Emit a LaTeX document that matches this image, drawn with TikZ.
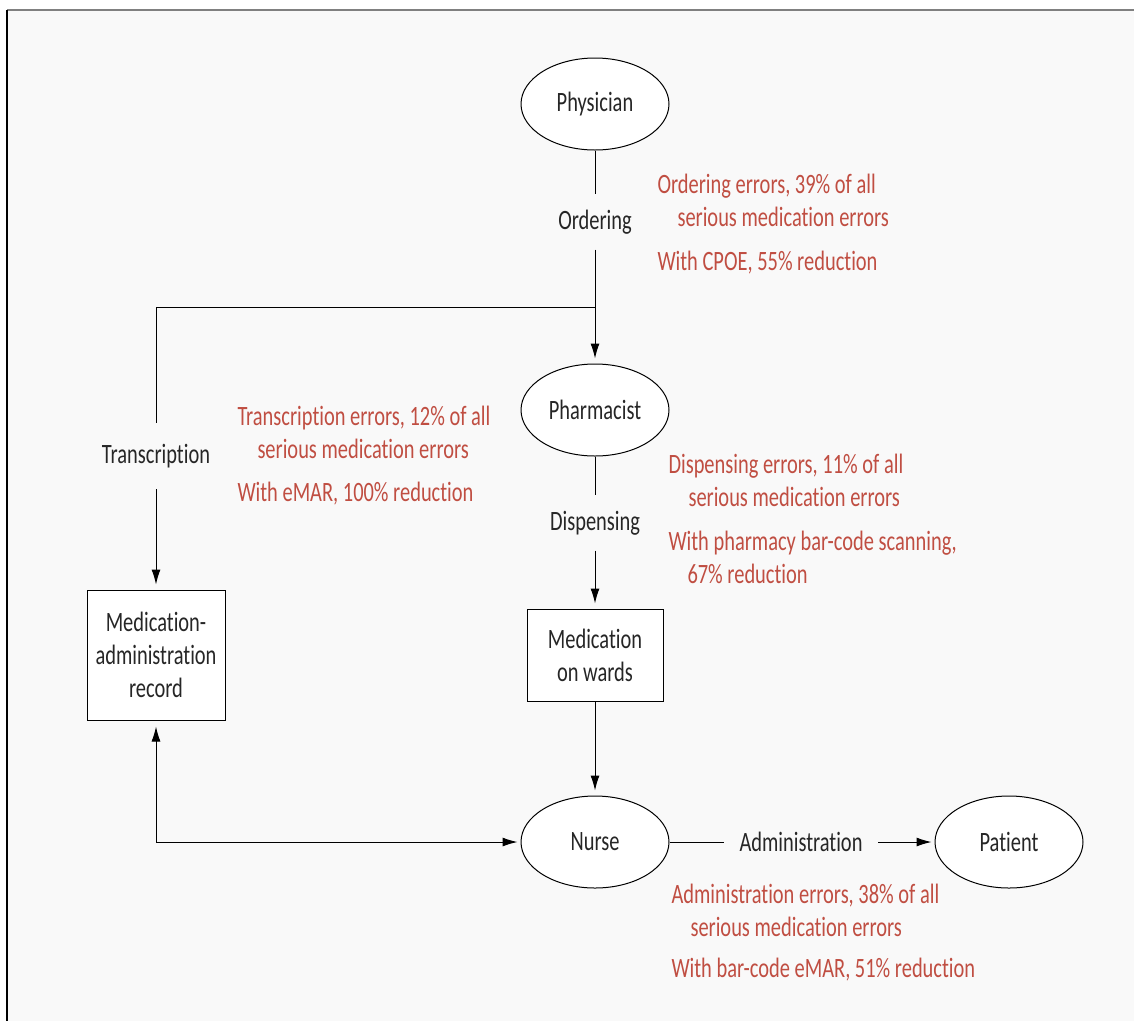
\documentclass[tikz,border=0pt]{standalone}
\usepackage{fontspec}
\setmainfont{Carlito}[FakeStretch=0.73,Ligatures=NoCommon]
\usetikzlibrary{shapes.geometric}
\usetikzlibrary{arrows.meta}
\definecolor{errred}{RGB}{192,78,66}
\definecolor{paper}{RGB}{249,249,249}
\tikzset{actor/.style={draw,ellipse,fill=white,minimum width=148pt,minimum height=92pt,inner sep=0pt}}
\tikzset{store/.style={draw,rectangle,fill=white,align=center,inner sep=0pt}}
\tikzset{stage/.style={inner sep=15pt}}
\tikzset{errnote/.style={text=errred,align=left,anchor=north west,inner sep=0pt}}
\tikzset{flow/.style={-{Latex[length=15pt,width=9pt]},shorten >=5pt}}

\begin{document}
\begin{tikzpicture}[x=1pt,y=-1pt,line width=1pt,text=black!85,
		font=\fontsize{28}{33}\selectfont]
	\useasboundingbox (0,0) rectangle (1134,1021);
	\fill[paper] (7,10) rectangle (1134,1021);
	\draw[gray,line width=2pt] (7,10) -- (1134,10);
	\draw[line width=2pt] (7,10) -- (7,1021);

	\node[actor] (physician) at (595,104) {Physician};
	\node[stage] (ordering) at (595,222) {Ordering};
	\coordinate (branch) at (595,307);
	\node[actor] (pharmacist) at (595,410) {Pharmacist};
	\node[stage] (dispensing) at (595,523) {Dispensing};
	\node[store,minimum width=136pt,minimum height=92pt] (wards) at (595,655) {Medication\\on wards};
	\node[actor] (nurse) at (595,842) {Nurse};
	\node[stage] (admin) at (801,842) {Administration};
	\node[actor] (patient) at (1009,842) {Patient};
	\node[stage,inner ysep=21pt] (transcription) at (156,456) {Transcription};
	\node[store,minimum width=138pt,minimum height=130pt] (record) at (156,655) {Medication-\\administration\\record};

	\draw (physician) -- (ordering);
	\draw[flow] (ordering) -- (pharmacist);
	\draw (branch) -| (transcription);
	\draw[flow] (transcription) -- (record);
	\draw (pharmacist) -- (dispensing);
	\draw[flow] (dispensing) -- (wards);
	\draw[flow] (wards) -- (nurse);
	\draw[{Latex[length=15pt,width=9pt]}-{Latex[length=15pt,width=9pt]},shorten <=6pt,shorten >=3pt] (record) |- (nurse);
	\draw (nurse) -- (admin);
	\draw[flow,shorten >=3pt] (admin) -- (patient);

	% error rates
	\node[errnote] (ordnote) at (657,174) {Ordering errors, 39\% of all\\
		\hspace*{20pt}serious medication errors\\[11pt]With CPOE, 55\% reduction};
	\node[errnote] (transnote) at (237,406) {Transcription errors, 12\% of all\\
		\hspace*{20pt}serious medication errors\\[10pt]With eMAR, 100\% reduction};
	\node[errnote] (dispnote) at (668,454) {Dispensing errors, 11\% of all\\
		\hspace*{20pt}serious medication errors\\[11pt]With pharmacy bar-code scanning,\\
		\hspace*{19pt}67\% reduction};
	\node[errnote] (adminnote) at (671,884) {Administration errors, 38\% of all\\
		\hspace*{19pt}serious medication errors\\[8pt]With bar-code eMAR, 51\% reduction};
\end{tikzpicture}
\end{document}
